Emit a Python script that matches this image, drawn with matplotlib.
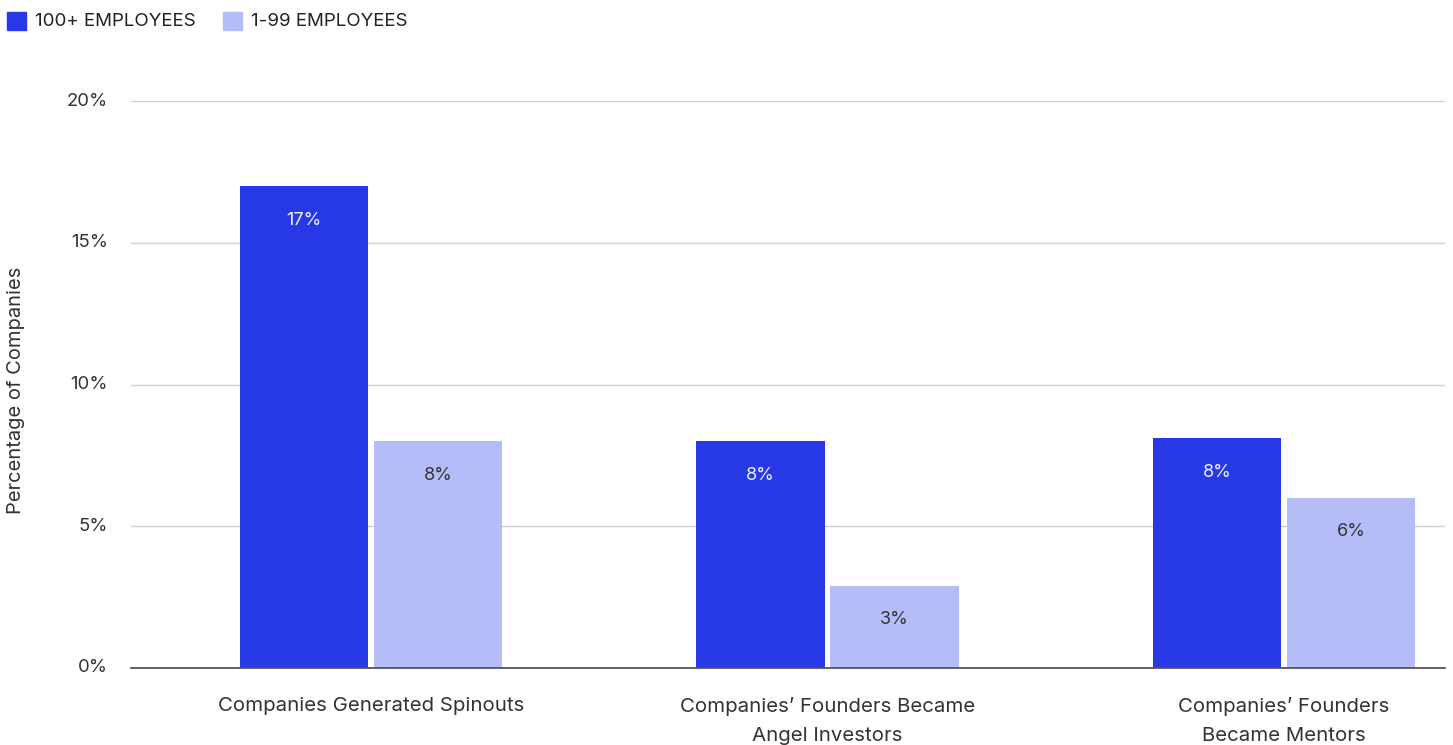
import matplotlib
matplotlib.use("Agg")
import matplotlib.pyplot as plt
import numpy as np
from matplotlib.patches import Rectangle

plt.rcParams["font.family"] = ["Inter", "DejaVu Sans"]

categories = ["Companies Generated Spinouts",
              "Companies\u2019 Founders Became\nAngel Investors",
              "Companies\u2019 Founders\nBecame Mentors"]
series_names = ["100+ EMPLOYEES", "1-99 EMPLOYEES"]
large_cos = [17.0, 8.0, 8.1]
small_cos = [8.0, 2.9, 6.0]
large_labels = ["17%", "8%", "8%"]
small_labels = ["8%", "3%", "6%"]
yticks = [0, 5, 10, 15, 20]

DARK = "#2739E7"
LIGHT = "#B5BDF9"
TEXT = "#333333"

fig = plt.figure(figsize=(14.53, 7.45), dpi=100)
ax = fig.add_axes([131 / 1453, 1 - 668 / 745, 1314 / 1453, 567 / 745])

x = np.arange(len(categories))
w = 0.2815
off = w / 2 + 0.006
b1 = ax.bar(x - off, large_cos, w, color=DARK, zorder=3)
b2 = ax.bar(x + off, small_cos, w, color=LIGHT, zorder=3)

for bars, labels, col in ((b1, large_labels, "#EEF0FF"), (b2, small_labels, TEXT)):
    for bar, lab in zip(bars, labels):
        ax.annotate(lab, (bar.get_x() + bar.get_width() / 2, bar.get_height()),
                    xytext=(0, -24.5), textcoords="offset points",
                    ha="center", va="center", fontsize=13, color=col, zorder=4)

ax.set_xlim(-0.526, 2.353)
ax.set_ylim(0, 20)
ax.set_yticks(yticks)
ax.set_yticklabels([f"{v}%" for v in yticks])
ax.set_xticks(x)
ax.set_xticklabels(categories, linespacing=1.75)
ax.tick_params(axis="x", length=0, pad=21, labelsize=14.7, labelcolor=TEXT)
ax.tick_params(axis="y", length=0, pad=16.5, labelsize=13.3, labelcolor=TEXT)
for lab in ax.get_yticklabels():
    lab.set_verticalalignment("center")

ax.grid(axis="y", color="#D0D0D0", linewidth=1, zorder=0)
for s in ("top", "right", "left"):
    ax.spines[s].set_visible(False)
ax.spines["bottom"].set_color("#555555")
ax.spines["bottom"].set_linewidth(1.3)
ax.spines["bottom"].set_zorder(5)

fig.text(16 / 1453, 1 - 390 / 745, "Percentage of Companies", rotation=90,
         fontsize=14.5, color=TEXT, ha="center", va="center")

# legend across the top
lx = [7, 223]
for px, name, col in zip(lx, series_names, [DARK, LIGHT]):
    fig.patches.append(Rectangle((px / 1453, 1 - 30 / 745), 19 / 1453, 18 / 745,
                                 transform=fig.transFigure, color=col))
    fig.text((px + 28) / 1453, 1 - 21 / 745, name, fontsize=13.5, color="#222222",
             va="center", ha="left")

fig.savefig("out.png", dpi=100)
